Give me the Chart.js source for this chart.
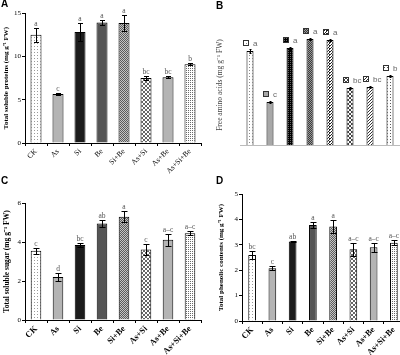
<!DOCTYPE html>
<html>
<head>
<meta charset="utf-8">
<script src="https://cdn.jsdelivr.net/npm/chart.js@4.4.1/dist/chart.umd.min.js"></script>
<style>
  body { margin: 0; background: #fff; }
  #wrap { position: relative; width: 400px; height: 355px; overflow: hidden; background: #fff; }
  #wrap canvas { position: absolute; }
  .tag { position: absolute; font: bold 10px "Liberation Sans", Arial, sans-serif; color: #000; }
</style>
</head>
<body>
<div id="wrap">
  <canvas id="chartA" width="205" height="175" style="left:0;top:0"></canvas>
  <canvas id="chartB" width="200" height="175" style="left:200px;top:0"></canvas>
  <canvas id="chartC" width="205" height="180" style="left:0;top:175px"></canvas>
  <canvas id="chartD" width="210" height="180" style="left:200px;top:175px"></canvas>
  <div class="tag" style="left:1px;top:-2px">A</div>
  <div class="tag" style="left:216px;top:0px">B</div>
  <div class="tag" style="left:1px;top:175px">C</div>
  <div class="tag" style="left:216px;top:175px">D</div>
</div>
<script>
const treatments = ['CK', 'As', 'Si', 'Be', 'Si+Be', 'As+Si', 'As+Be', 'As+Si+Be'];

const proteinMeans = [12.5, 5.65, 12.8, 13.9, 13.85, 7.5, 7.6, 9.1];
const proteinErrors = [0.8, 0.1, 1.0, 0.25, 0.95, 0.27, 0.1, 0.15];
const proteinLetters = ['a', 'c', 'a', 'a', 'a', 'bc', 'bc', 'b'];
const proteinTicks = [0, 5, 10, 15];

const aminoMeans = [9.4, 4.3, 9.7, 10.6, 10.5, 5.7, 5.8, 6.9];
const aminoErrors = [0.15, 0.1, 0.15, 0.1, 0.1, 0.12, 0.1, 0.1];
const aminoLetters = ['a', 'c', 'a', 'a', 'a', 'bc', 'bc', 'b'];

const sugarMeans = [3.55, 2.2, 3.85, 4.95, 5.3, 3.62, 4.12, 4.45];
const sugarErrors = [0.15, 0.22, 0.12, 0.2, 0.28, 0.27, 0.3, 0.1];
const sugarLetters = ['c', 'd', 'bc', 'ab', 'a', 'c', 'a–c', 'a–c'];
const sugarTicks = [0, 2, 4, 6];

const phenolMeans = [2.6, 2.08, 3.13, 3.78, 3.72, 2.82, 2.9, 3.08];
const phenolErrors = [0.15, 0.08, 0.03, 0.12, 0.25, 0.25, 0.17, 0.1];
const phenolLetters = ['bc', 'c', 'ab', 'a', 'a', 'a–c', 'a–c', 'a–c'];
const phenolTicks = [0, 1, 2, 3, 4, 5];

const SERIF = '"Liberation Serif", "Times New Roman", serif';
const SANS = '"Liberation Sans", Arial, sans-serif';

// small repeating fills for the hatched bars
function pattern(bg, fg, size, cells) {
  const c = document.createElement('canvas');
  c.width = c.height = size;
  const g = c.getContext('2d');
  g.fillStyle = bg;
  g.fillRect(0, 0, size, size);
  g.fillStyle = fg;
  cells.forEach(([x, y]) => g.fillRect(x, y, 1, 1));
  return g.createPattern(c, 'repeat');
}
const cross4 = [[0,0],[1,1],[2,2],[3,3],[3,0],[2,1],[1,2],[0,3]];

const fills = [
  pattern('#fff', '#9a9a9a', 3, [[1, 1]]),
  '#b4b4b4',
  '#1c1c1c',
  '#555555',
  pattern('#c4c4c4', '#5a5a5a', 2, [[0, 0], [1, 1]]),
  pattern('#fff', '#666', 4, cross4),
  '#b4b4b4',
  pattern('#fff', '#6a6a6a', 2, [[0, 0]])
];

const aminoFills = [
  pattern('#fff', '#8a8a8a', 3, [[1, 1]]),
  '#a8a8a8',
  pattern('#000', '#666', 2, [[0, 0]]),
  pattern('#3a3a3a', '#9a9a9a', 2, [[0, 0], [1, 1]]),
  pattern('#fff', '#222', 3, [[0, 0], [1, 0], [0, 1], [2, 2]]),
  pattern('#fff', '#444', 4, cross4),
  pattern('#fff', '#333', 3, [[0, 0], [1, 2], [2, 1]]),
  pattern('#fff', '#555', 3, [[1, 1]])
];

const errPlugin = {
  id: 'errLetters',
  afterDatasetsDraw(chart, args, opts) {
    const ctx = chart.ctx;
    const y = chart.scales.y;
    const vals = chart.data.datasets[0].data;
    ctx.save();
    chart.getDatasetMeta(0).data.forEach((bar, i) => {
      const x = Math.round(bar.x) + 0.5;
      const hi = Math.round(y.getPixelForValue(vals[i] + opts.errors[i])) + 0.5;
      const lo = Math.round(y.getPixelForValue(vals[i] - opts.errors[i])) + 0.5;
      ctx.strokeStyle = '#000';
      ctx.lineWidth = 1;
      ctx.beginPath();
      ctx.moveTo(x, hi); ctx.lineTo(x, lo);
      ctx.moveTo(x - opts.cap, hi); ctx.lineTo(x + opts.cap, hi);
      ctx.moveTo(x - opts.cap, lo); ctx.lineTo(x + opts.cap, lo);
      ctx.stroke();

      ctx.fillStyle = opts.color;
      ctx.font = opts.font;
      if (opts.icons) {
        const top = y.getPixelForValue(vals[i]);
        const sy = Math.round(top - 11) + 0.5;
        const sx = Math.round(bar.x - 7) + 0.5;
        ctx.fillStyle = opts.icons[i];
        ctx.fillRect(sx, sy, 5, 5);
        ctx.strokeStyle = '#333';
        ctx.strokeRect(sx, sy, 5, 5);
        ctx.fillStyle = opts.color;
        ctx.textAlign = 'left';
        ctx.textBaseline = 'middle';
        ctx.fillText(opts.letters[i], bar.x + 3, sy + 3);
      } else {
        ctx.textAlign = 'center';
        ctx.textBaseline = 'alphabetic';
        ctx.fillText(opts.letters[i], bar.x, hi - opts.gap);
      }
    });
    ctx.restore();
  }
};

function barChart(id, cfg) {
  const canvas = document.getElementById(id);
  return new Chart(canvas, {
    type: 'bar',
    data: {
      labels: treatments,
      datasets: [{
        data: cfg.values,
        backgroundColor: cfg.fills,
        borderColor: '#000',
        borderWidth: 1,
        barPercentage: cfg.barPct,
        categoryPercentage: 1
      }]
    },
    options: {
      responsive: false,
      animation: false,
      layout: { padding: { left: cfg.padLeft, top: cfg.top, right: canvas.width - cfg.right, bottom: 0 } },
      plugins: {
        legend: { display: false },
        tooltip: { enabled: false },
        errLetters: {
          errors: cfg.errors, letters: cfg.letters, icons: cfg.icons,
          cap: cfg.cap, gap: 3, color: cfg.letterColor,
          font: cfg.letterFont
        }
      },
      scales: {
        x: {
          afterFit: s => { s.height = canvas.height - cfg.bottom; },
          grid: { display: !!cfg.axes, drawOnChartArea: false, offset: true, tickLength: 3, color: '#000' },
          border: { display: true, color: cfg.axes ? '#000' : '#bbb', dash: cfg.axes ? [] : [1, 2] },
          ticks: {
            display: !!cfg.axes, maxRotation: 45, minRotation: 45, autoSkip: false,
            padding: 1, color: '#000',
            font: { family: SERIF, size: cfg.xFont, weight: cfg.xWeight }
          }
        },
        y: {
          min: 0,
          max: cfg.max,
          afterFit: s => { s.width = cfg.left - cfg.padLeft; },
          afterBuildTicks: s => { if (cfg.ticks) s.ticks = cfg.ticks.map(v => ({ value: v })); },
          grid: { display: !!cfg.axes, drawOnChartArea: false, tickLength: 3, color: '#000' },
          border: { display: !!cfg.axes, color: '#000' },
          ticks: { display: !!cfg.axes, padding: 1, color: '#000', font: { family: SERIF, size: 7 } },
          title: {
            display: true, text: cfg.title, padding: 0, color: cfg.titleColor,
            font: { family: SERIF, size: cfg.titleSize, weight: cfg.titleWeight }
          }
        }
      }
    },
    plugins: [errPlugin]
  });
}

barChart('chartA', {
  values: proteinMeans, errors: proteinErrors, letters: proteinLetters, ticks: proteinTicks,
  fills: fills, max: 15, axes: true, barPct: 0.5, cap: 2.5,
  left: 25, right: 201, top: 13, bottom: 143, padLeft: 2,
  title: 'Total soluble proteins (mg g⁻¹ FW)', titleColor: '#000', titleSize: 7, titleWeight: 'bold',
  xFont: 7.5, xWeight: 'normal',
  letterColor: '#555', letterFont: '7.5px ' + SERIF
});

barChart('chartB', {
  values: aminoMeans, errors: aminoErrors, letters: aminoLetters, icons: aminoFills,
  fills: aminoFills, max: 12, axes: false, barPct: 0.35, cap: 1,
  left: 40, right: 200, top: 25, bottom: 145, padLeft: 16,
  title: 'Free amino acids (mg g⁻¹ FW)', titleColor: '#444', titleSize: 7.5, titleWeight: 'normal',
  letterColor: '#666', letterFont: '8px ' + SANS
});

barChart('chartC', {
  values: sugarMeans, errors: sugarErrors, letters: sugarLetters, ticks: sugarTicks,
  fills: fills, max: 6, axes: true, barPct: 0.48, cap: 3,
  left: 25, right: 201, top: 28, bottom: 145, padLeft: 3,
  title: 'Total soluble sugar (mg g⁻¹ FW)', titleColor: '#000', titleSize: 7.5, titleWeight: 'bold',
  xFont: 8.5, xWeight: 'bold',
  letterColor: '#555', letterFont: '7.5px ' + SERIF
});

barChart('chartD', {
  values: phenolMeans, errors: phenolErrors, letters: phenolLetters, ticks: phenolTicks,
  fills: fills, max: 5, axes: true, barPct: 0.38, cap: 3,
  left: 42, right: 204, top: 19, bottom: 146, padLeft: 17,
  title: 'Total phenolic contents (mg g⁻¹ FW)', titleColor: '#000', titleSize: 7, titleWeight: 'bold',
  xFont: 8.5, xWeight: 'bold',
  letterColor: '#555', letterFont: '7.5px ' + SERIF
});
</script>
</body>
</html>
